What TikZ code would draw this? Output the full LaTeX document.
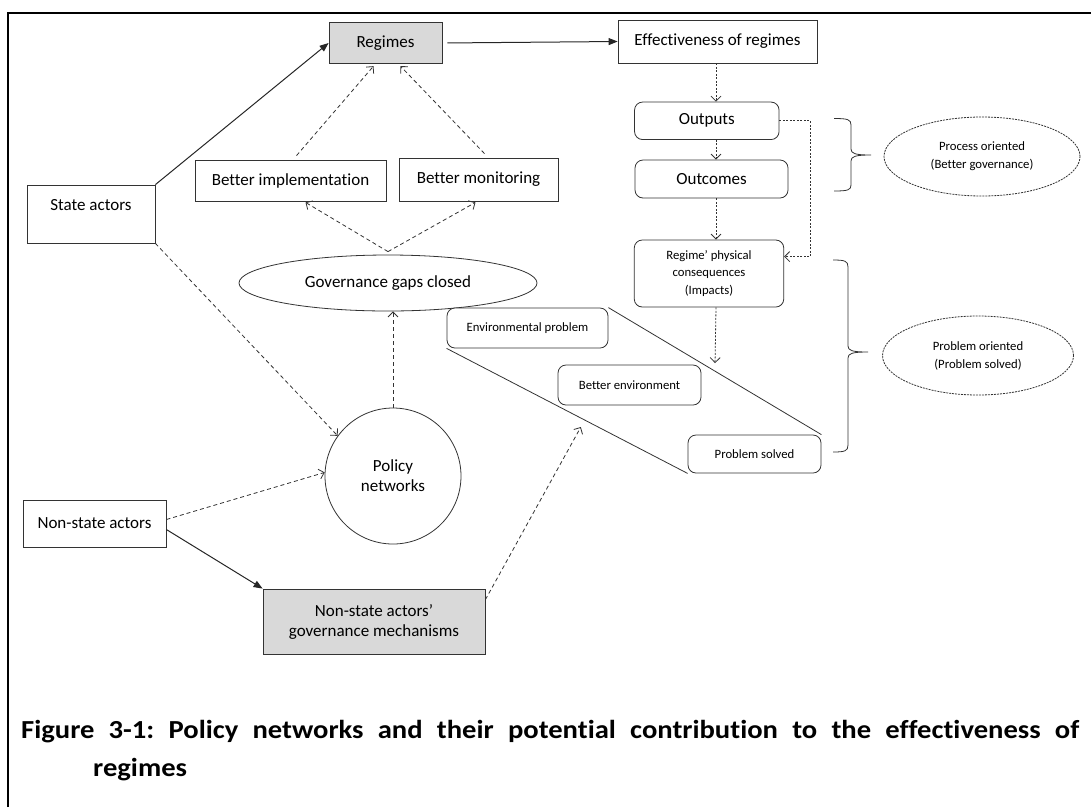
\documentclass[tikz,border=0pt]{standalone}
\usepackage{fontspec}
\setmainfont{Carlito}[Ligatures={NoCommon,NoContextual}]
\newfontfamily\capfont{Carlito}[FakeStretch=1.1,Ligatures={NoCommon,NoContextual}]
\usetikzlibrary{arrows.meta,calc,shapes.geometric}
\frenchspacing
\begin{document}
\begin{tikzpicture}[x=1pt,y=-1pt,
  box/.style={draw=black!80, line width=0.8pt, inner sep=0pt, fill=white, font=\fontsize{17}{20}\selectfont, align=center},
  rbox/.style={box, rounded corners=8pt},
  small/.style={font=\fontsize{12.7}{17.5}\selectfont},
  grayfill/.style={fill=black!15},
  dashell/.style={ellipse, draw=black!80, line width=0.8pt, dash pattern=on 2pt off 1pt, inner sep=0pt, align=center, font=\fontsize{12.7}{18}\selectfont},
  dasharrow/.style={draw=black!80, line width=0.8pt, dash pattern=on 4pt off 3pt, -{Straight Barb[length=5pt,width=10pt]}},
  finearrow/.style={draw=black!80, line width=0.8pt, dash pattern=on 2pt off 1.5pt, -{Straight Barb[length=5pt,width=10pt]}},
  solidarrow/.style={draw=black!85, line width=1pt, -{Triangle[length=9pt,width=7pt]}},
  plain/.style={draw=black!80, line width=0.8pt},
  captext/.style={anchor=base west, inner sep=0pt, font=\capfont\fontsize{26}{31}\selectfont\bfseries},
]
\useasboundingbox (0,0) rectangle (1091,807);
% frame
\draw[line width=2.5pt] (8,807) -- (8,13) -- (1091,13);

% nodes
\node[box, grayfill, minimum width=113pt, minimum height=41.5pt] (regimes) at (385.5,43) {Regimes};
\node[box, minimum width=199pt, minimum height=43pt] (eff) at (717.5,41.5) {Effectiveness of regimes};
\node[box, minimum width=128pt, minimum height=58pt,
  label={[anchor=north, yshift=-11pt, font=\fontsize{17}{20}\selectfont]north:State actors}] (state) at (91,214) {};
\node[box, minimum width=191pt, minimum height=41pt] (bimpl) at (290.5,180.5) {Better implementation};
\node[box, minimum width=159pt, minimum height=43pt] (bmon) at (478.5,179.5) {\raisebox{3pt}{Better monitoring}};
\node[box, ellipse, minimum width=298pt, minimum height=56pt] (gov) at (388,283) {Governance gaps closed};
\node[rbox, minimum width=144.5pt, minimum height=37.5pt] (outputs) at (706.8,120.8) {Outputs};
\node[rbox, minimum width=153pt, minimum height=38pt] (outcomes) at (711.5,179) {Outcomes};
\node[rbox, small, minimum width=149.5pt, minimum height=67pt] (regime) at (709,273.5) {Regime’ physical\\consequences\\(Impacts)};
\node[rbox, small, minimum width=161pt, minimum height=40pt] (envp) at (527.5,328) {Environmental problem};
\node[rbox, small, minimum width=143pt, minimum height=40pt] (benv) at (629.5,385) {Better environment};
\node[rbox, small, minimum width=133pt, minimum height=38pt] (solved) at (754.5,454) {Problem solved};
\node[box, circle, minimum size=136pt] (policy) at (393,476) {Policy\\networks};
\node[box, minimum width=143pt, minimum height=47pt] (nonstate) at (94.5,523.5) {Non-state actors};
\node[box, grayfill, minimum width=222pt, minimum height=65pt] (mech) at (374,621.5) {Non-state actors’\\governance mechanisms};
\node[dashell, minimum width=196pt, minimum height=79pt] (proc) at (982,156.5) {Process oriented\\(Better governance)};
\node[dashell, minimum width=191pt, minimum height=79pt] (prob) at (978,355.5) {Problem oriented\\(Problem solved)};

% parallelogram
\draw[plain] (envp.north east) -- (solved.north east);
\draw[plain] (envp.south west) -- (solved.south west);

% connectors
\draw[solidarrow] (state.north east) -- (regimes.west);
\draw[solidarrow, shorten <=5pt] (regimes.east) -- (eff.west);
\draw[dasharrow] ([xshift=6pt,yshift=4pt]bimpl.north) -- ([xshift=-12pt,yshift=-2pt]regimes.south);
\draw[dasharrow] ([xshift=6pt,yshift=4pt]bmon.north) -- ([xshift=15pt,yshift=-2pt]regimes.south);
\draw[dasharrow] ([yshift=3pt]gov.north) -- ([xshift=15pt,yshift=-1pt]bimpl.south);
\draw[dasharrow] ([yshift=3pt]gov.north) -- ([xshift=-3pt,yshift=-1pt]bmon.south);
\draw[dasharrow] (policy.north) -- (policy.north |- gov.south);
\draw[dasharrow] (state.south east) -- (policy.144);
\draw[dasharrow] ([yshift=4pt]nonstate.east) -- (policy.177);
\draw[solidarrow] ([yshift=-6pt]nonstate.east) -- (mech.north west);
\draw[dasharrow, shorten >=8pt] ([yshift=-11pt]mech.north east) -- ($(envp.south west)!0.573!(solved.south west)$);

\coordinate (col) at (716,0);
\draw[finearrow] (eff.south -| col) -- (outputs.north -| col);
\draw[finearrow] (outputs.south -| col) -- (outcomes.north -| col);
\draw[finearrow] (outcomes.south -| col) -- (regime.north -| col);
\draw[finearrow, shorten >=8pt] (regime.south -| col) -- ($(envp.north east)!0.5!(solved.north east)$);
\draw[finearrow] (outputs.east) -- ++(31,0) |- ($(regime.north east)!0.25!(regime.south east)$);

% braces
\draw[plain] (834,118.5) .. controls (848,118.5) and (851,119.5) .. (851,125) -- (851,149)
  .. controls (851,153.5) and (855,155) .. (871,155)
  .. controls (855,155) and (851,156.5) .. (851,161) -- (851,185)
  .. controls (851,190) and (848,191) .. (834,191);
\draw[plain] (833,260) .. controls (845,260) and (848,261) .. (848,267) -- (848,346)
  .. controls (848,350.5) and (852,352) .. (868,352)
  .. controls (852,352) and (848,353.5) .. (848,358) -- (848,445)
  .. controls (848,451) and (845,452) .. (833,452);

% caption
\node[captext] (cap1) at (21,738)
  {\makebox[1058pt][s]{Figure 3-1: Policy networks and their potential contribution to the effectiveness of}};
\node[captext] (cap2) at (93,776) {regimes};
\end{tikzpicture}
\end{document}
